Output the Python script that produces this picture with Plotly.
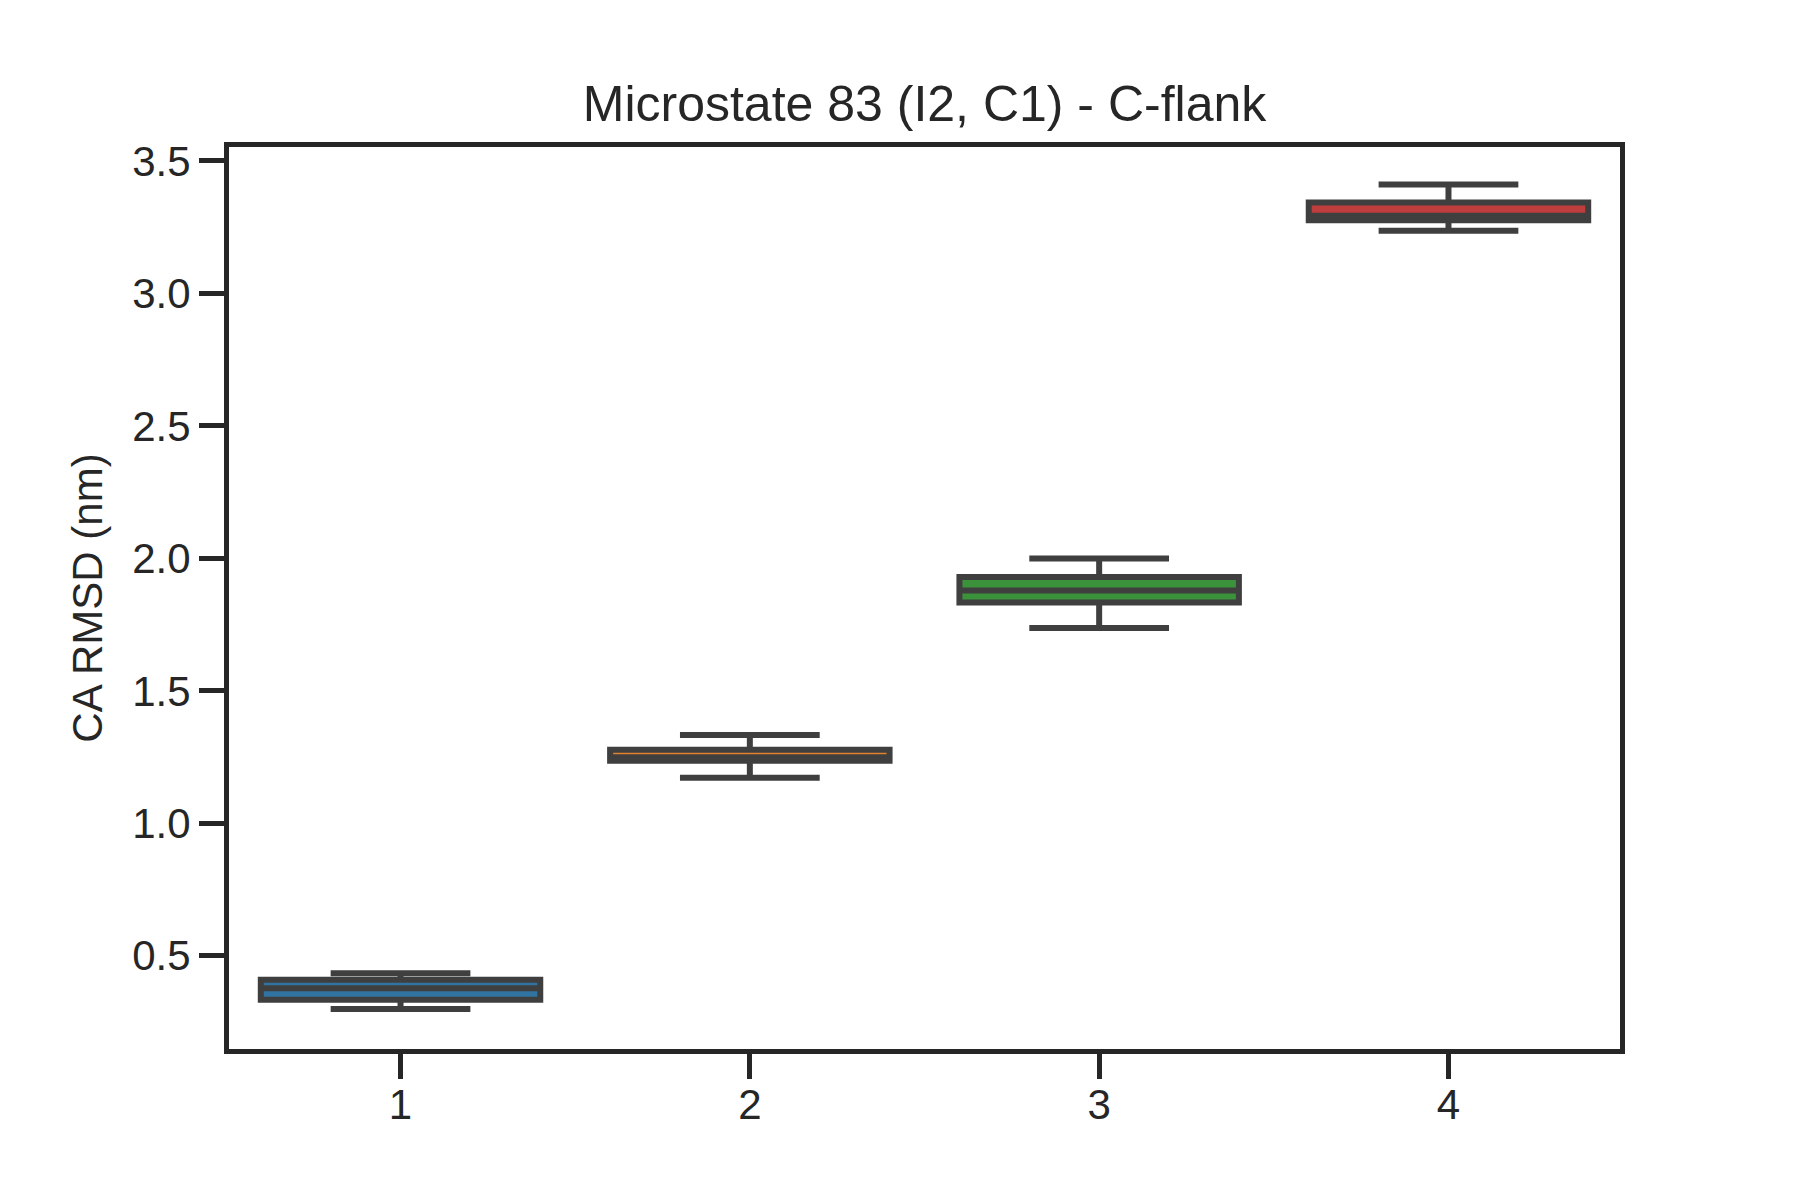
import plotly.graph_objects as go

categories = ["1", "2", "3", "4"]
q1 = [0.334, 1.236, 1.833, 3.276]
median = [0.377, 1.249, 1.879, 3.293]
q3 = [0.409, 1.277, 1.930, 3.343]
lower_whisker = [0.299, 1.172, 1.737, 3.237]
upper_whisker = [0.434, 1.333, 1.999, 3.411]
fill_colors = ["#3274a1", "#e1812c", "#3a923a", "#c03d3e"]
y_ticks = [0.5, 1.0, 1.5, 2.0, 2.5, 3.0, 3.5]

title_text = "Microstate 83 (I2, C1) - C-flank"
y_label = "CA RMSD (nm)"

LINE = "#3f3f3f"
AX = "#262626"
FONT = "Liberation Sans, Arial, sans-serif"

fig = go.Figure()
for i, c in enumerate(categories):
    fig.add_trace(go.Box(
        x=[c],
        q1=[q1[i]], median=[median[i]], q3=[q3[i]],
        lowerfence=[lower_whisker[i]], upperfence=[upper_whisker[i]],
        fillcolor=fill_colors[i],
        line=dict(color=LINE, width=6),
        width=0.8,
        whiskerwidth=0.5,
        boxpoints=False,
        showlegend=False,
        hoverinfo="skip",
    ))

fig.update_layout(
    width=1800, height=1200,
    paper_bgcolor="white", plot_bgcolor="white",
    margin=dict(l=229, r=180, t=147, b=151),
    boxmode="overlay",
    font=dict(family=FONT, color=AX, size=42),
    title=dict(text=title_text, x=0.5, xanchor="center", xref="paper",
               y=1 - 103 / 1200, yanchor="middle",
               font=dict(family=FONT, size=50, color=AX)),
)
fig.update_xaxes(
    type="category", categoryorder="array", categoryarray=categories,
    range=[-0.491, 3.491],
    showline=True, linecolor=AX, linewidth=5, mirror=True,
    ticks="outside", ticklen=25, tickwidth=5, tickcolor=AX,
    ticklabelstandoff=-10,
    tickfont=dict(family=FONT, size=42, color=AX),
    showgrid=False, zeroline=False,
)
fig.update_yaxes(
    range=[0.1478, 3.5528],
    tickmode="array", tickvals=y_ticks, tickformat=".1f",
    showline=True, linecolor=AX, linewidth=5, mirror=True,
    ticks="outside", ticklen=25, tickwidth=5, tickcolor=AX,
    tickfont=dict(family=FONT, size=42, color=AX),
    title=dict(text=y_label, font=dict(family=FONT, size=42, color=AX), standoff=18),
    showgrid=False, zeroline=False,
)

fig.write_html(
    "out.html",
    config={"displayModeBar": False},
    post_script="document.body.style.margin='0';document.body.style.overflow='hidden';document.documentElement.style.overflow='hidden';",
)
